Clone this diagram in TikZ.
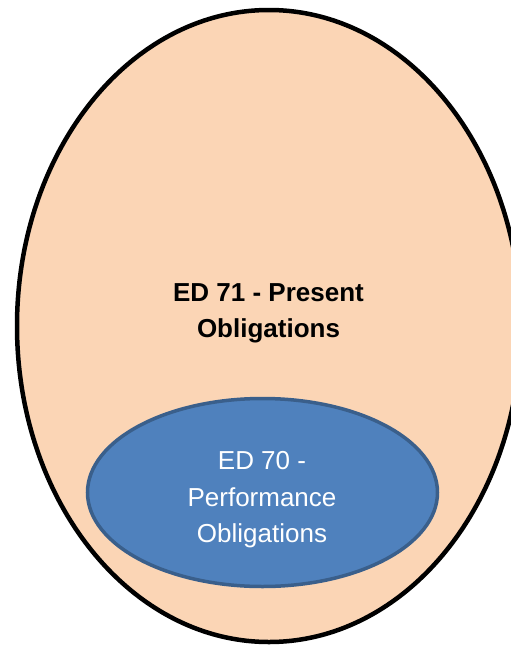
\documentclass[tikz,border=0pt]{standalone}
\usepackage{fontspec}
\setmainfont{Liberation Sans}
\definecolor{peach}{HTML}{FBD5B5}
\definecolor{edblue}{HTML}{4F81BD}
\definecolor{edborder}{HTML}{3A5F8B}
\begin{document}
\begin{tikzpicture}[x=1pt,y=-1pt]
        \useasboundingbox (0,0) rectangle (511,645);
        \clip (0,0) rectangle (511,645);
        % Outer ellipse (ED 71)
        \draw[line width=4.5pt, fill=peach] (269,326) ellipse [x radius=252, y radius=316];
        \node[align=center, inner sep=0pt, font=\fontsize{26}{36}\selectfont\bfseries] (present) at (268.5,313) {ED 71 - Present\\Obligations}; % Label
    
        % Inner ellipse (ED 70)
        \draw[line width=3.5pt, draw=edborder, fill=edblue] (262.5,492.5) ellipse [x radius=175, y radius=94];
        \node[align=center, inner sep=0pt, white, font=\fontsize{26}{36.5}\selectfont] (performance) at (262,500) {ED 70 -\\Performance\\Obligations}; % Label
    \end{tikzpicture}
\end{document}
